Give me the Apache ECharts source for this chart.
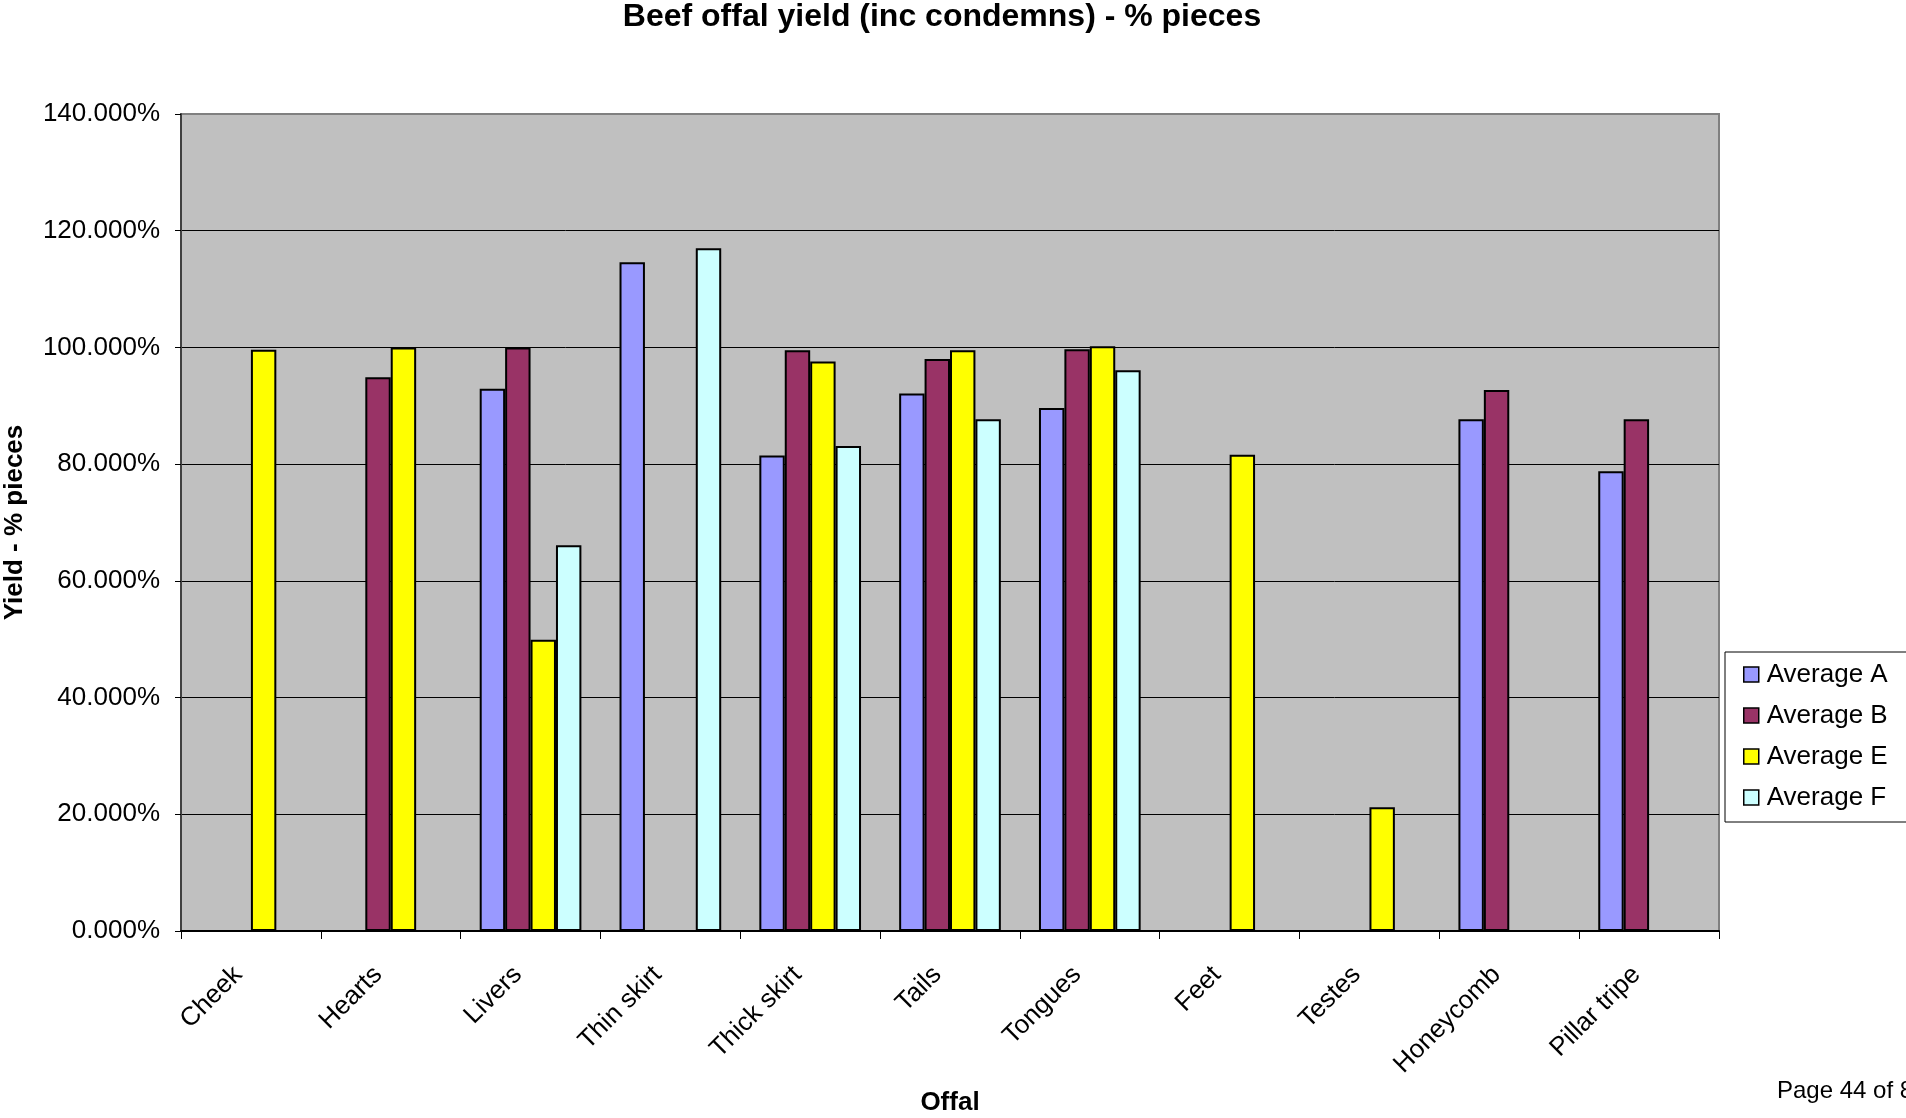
<!DOCTYPE html>
<html>
<head>
<meta charset="utf-8">
<title>Beef offal yield (inc condemns) - % pieces</title>
<script src="https://cdn.jsdelivr.net/npm/echarts@6/dist/echarts.min.js"></script>
<style>
  html, body { margin: 0; padding: 0; background: #ffffff; }
  #chart { width: 1906px; height: 1118px; }
</style>
</head>
<body>
<div id="chart"></div>
<script>
// Offal categories along the x axis
const categories = ['Cheek', 'Hearts', 'Livers', 'Thin skirt', 'Thick skirt', 'Tails',
  'Tongues', 'Feet', 'Testes', 'Honeycomb', 'Pillar tripe'];

// Yield in % of pieces (null = no value for that offal)
const averageA = [null, null, 92.9, 114.6, 81.5, 92.1, 89.6, null, null, 87.7, 78.8];
const averageB = [null, 94.9, 100.0, null, 99.5, 98.0, 99.7, null, null, 92.7, 87.7];
const averageE = [99.6, 100.0, 49.9, null, 97.6, 99.5, 100.2, 81.6, 21.2, null, null];
const averageF = [null, null, 66.1, 117.0, 83.1, 87.7, 96.1, null, null, null, null];

const seriesNames = ['Average A', 'Average B', 'Average E', 'Average F'];
const seriesData = [averageA, averageB, averageE, averageF];
const seriesColors = ['#9999FF', '#993366', '#FFFF00', '#CCFFFF'];

// Value axis: 0% to 140% in steps of 20%
const yMin = 0, yMax = 140, yStep = 20;

const FONT = "'Liberation Sans', Arial, sans-serif";

const chart = echarts.init(document.getElementById('chart'), null, { renderer: 'canvas' });

const option = {
  backgroundColor: '#ffffff',
  animation: false,
  grid: {
    left: 181, right: 187, top: 114, bottom: 187,
    show: true,
    backgroundColor: '#C0C0C0',
    borderColor: '#808080',
    borderWidth: 2,
    containLabel: false,
    outerBoundsMode: 'none'
  },
  legend: {
    orient: 'vertical',
    left: 1725,
    top: 652,
    data: seriesNames,
    icon: 'rect',
    itemWidth: 15,
    itemHeight: 15,
    itemGap: 12,
    padding: [8, 40, 10, 18],
    backgroundColor: '#ffffff',
    borderColor: '#000000',
    borderWidth: 1,
    borderRadius: 0,
    itemStyle: { borderColor: '#000', borderWidth: 1.5 },
    textStyle: { fontFamily: FONT, fontSize: 26, lineHeight: 29, color: '#000', padding: [0, 0, 0, 3] }
  },
  xAxis: {
    type: 'category',
    data: categories,
    boundaryGap: true,
    name: 'Offal',
    nameLocation: 'middle',
    nameGap: 159,
    nameTextStyle: { fontFamily: FONT, fontSize: 26, fontWeight: 'bold', color: '#000' },
    axisLine: { show: true, lineStyle: { color: '#000', width: 2 } },
    axisTick: { show: true, alignWithLabel: false, length: 8, lineStyle: { color: '#000', width: 1 } },
    axisLabel: {
      rotate: 45,
      interval: 0,
      margin: 27,
      padding: [0, 18, 0, 0],
      fontFamily: FONT,
      fontSize: 26,
      color: '#000'
    },
    splitLine: { show: false }
  },
  yAxis: {
    type: 'value',
    min: yMin,
    max: yMax,
    interval: yStep,
    name: 'Yield - % pieces',
    nameLocation: 'middle',
    nameGap: 153,
    nameRotate: 90,
    nameTextStyle: { fontFamily: FONT, fontSize: 26, fontWeight: 'bold', color: '#000' },
    axisLine: { show: true, lineStyle: { color: '#404040', width: 2 } },
    axisTick: { show: true, inside: false, length: 6, lineStyle: { color: '#000', width: 1 } },
    axisLabel: {
      margin: 21,
      fontFamily: FONT,
      fontSize: 26,
      color: '#000',
      formatter: v => v.toFixed(3) + '%'
    },
    splitLine: {
      show: true,
      showMinLine: false,
      showMaxLine: false,
      lineStyle: { color: '#000', width: 1 }
    }
  },
  series: seriesNames.map((name, i) => ({
    name: name,
    type: 'bar',
    data: seriesData[i],
    barGap: '0%',
    barCategoryGap: '27.27%',
    itemStyle: { color: seriesColors[i], borderColor: '#000', borderWidth: 2 },
    emphasis: { disabled: true }
  })),
  graphic: [
    {
      // chart title
      type: 'text',
      x: 942,
      y: 17,
      silent: true,
      style: {
        text: 'Beef offal yield (inc condemns) - % pieces',
        fontFamily: FONT, fontSize: 32, fontWeight: 'bold', fill: '#000',
        align: 'center', verticalAlign: 'middle'
      }
    },
    {
      // page footer
      type: 'text',
      left: 1777,
      top: 1079,
      silent: true,
      style: { text: 'Page 44 of 8', fontFamily: FONT, fontSize: 24, fill: '#000' }
    }
  ]
};

chart.setOption(option);
</script>
</body>
</html>
